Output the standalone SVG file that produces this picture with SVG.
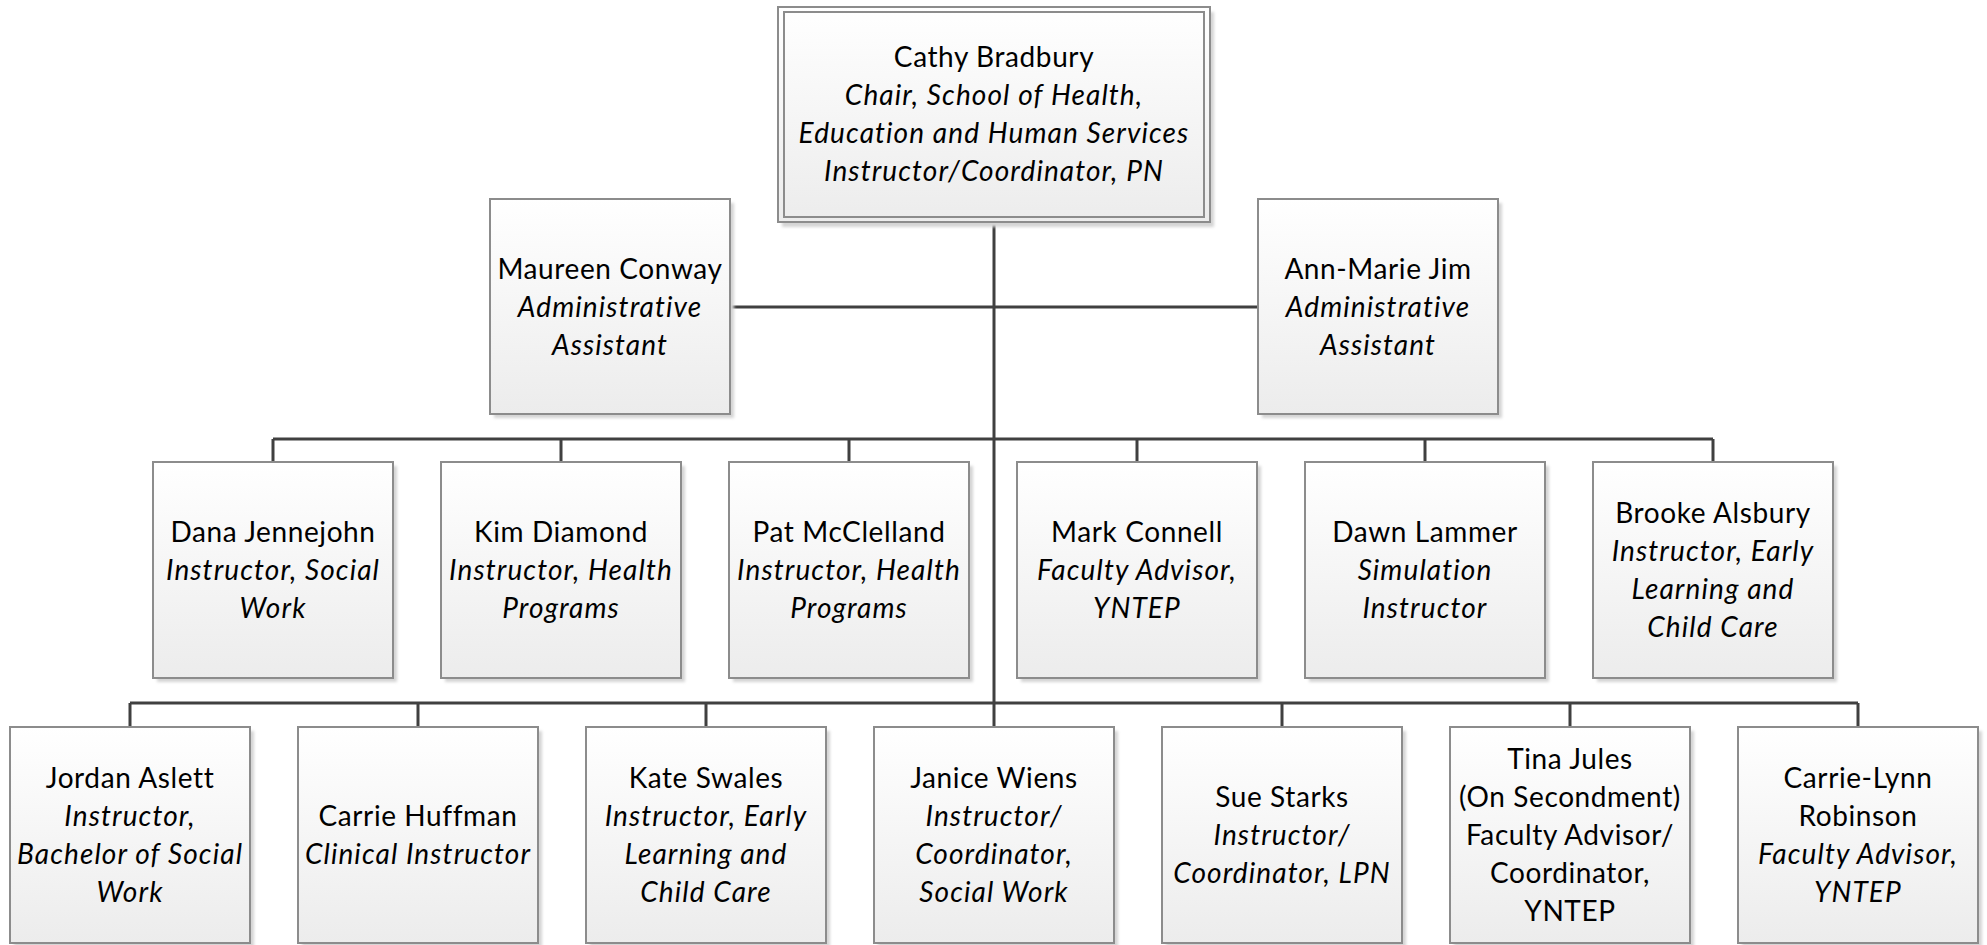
<svg xmlns="http://www.w3.org/2000/svg" width="1987" height="945" viewBox="0 0 1987 945">
<defs>
<linearGradient id="fill" x1="0" y1="0" x2="0" y2="1">
<stop offset="0" stop-color="#ffffff"/>
<stop offset="1" stop-color="#ececec"/>
</linearGradient>
<filter id="sh" x="-10%" y="-10%" width="130%" height="130%">
<feGaussianBlur stdDeviation="1.5"/>
</filter>
</defs>
<style>
.box{fill:url(#fill);stroke:#8c8c8c;stroke-width:2}
.shadow{fill:#d4d4d4;filter:url(#sh)}
.conn{fill:none;stroke:#404040;stroke-width:3}
text{font-family:Lato,"Open Sans","Liberation Sans",sans-serif;font-size:28px;letter-spacing:0.6px;fill:#000;text-anchor:middle}
.i{font-style:italic;letter-spacing:1.1px}
</style>
<rect width="1987" height="945" fill="#ffffff"/>
<g id="connectors">
<path class="conn" d="M994 222 V727"/>
<path class="conn" d="M730 307 H1258"/>
<path class="conn" d="M273 439 H1713 M273 439 V462 M561 439 V462 M849 439 V462 M1137 439 V462 M1425 439 V462 M1713 439 V462"/>
<path class="conn" d="M130 703 H1858 M130 703 V727 M418 703 V727 M706 703 V727 M1282 703 V727 M1570 703 V727 M1858 703 V727"/>
</g>
<g id="n-bradbury">
<rect class="shadow" x="782" y="12" width="432" height="215"/>
<rect class="box" x="778" y="7" width="432" height="215"/>
<rect x="784" y="12" width="420" height="205" fill="none" stroke="#8c8c8c" stroke-width="2"/>
<text x="994" y="67">Cathy Bradbury</text>
<text class="i" x="994" y="105">Chair, School of Health,</text>
<text class="i" x="994" y="143">Education and Human Services</text>
<text class="i" x="994" y="181">Instructor/Coordinator, PN</text>
</g>
<g id="n-conway">
<rect class="shadow" x="494" y="203" width="240" height="215"/>
<rect class="box" x="490" y="199" width="240" height="215"/>
<text x="610" y="279">Maureen Conway</text>
<text class="i" x="610" y="317">Administrative</text>
<text class="i" x="610" y="355">Assistant</text>
</g>
<g id="n-jim">
<rect class="shadow" x="1262" y="203" width="240" height="215"/>
<rect class="box" x="1258" y="199" width="240" height="215"/>
<text x="1378" y="279">Ann-Marie Jim</text>
<text class="i" x="1378" y="317">Administrative</text>
<text class="i" x="1378" y="355">Assistant</text>
</g>
<g id="n-jennejohn">
<rect class="shadow" x="157" y="466" width="240" height="216"/>
<rect class="box" x="153" y="462" width="240" height="216"/>
<text x="273" y="542">Dana Jennejohn</text>
<text class="i" x="273" y="580">Instructor, Social</text>
<text class="i" x="273" y="618">Work</text>
</g>
<g id="n-diamond">
<rect class="shadow" x="445" y="466" width="240" height="216"/>
<rect class="box" x="441" y="462" width="240" height="216"/>
<text x="561" y="542">Kim Diamond</text>
<text class="i" x="561" y="580">Instructor, Health</text>
<text class="i" x="561" y="618">Programs</text>
</g>
<g id="n-mcclelland">
<rect class="shadow" x="733" y="466" width="240" height="216"/>
<rect class="box" x="729" y="462" width="240" height="216"/>
<text x="849" y="542">Pat McClelland</text>
<text class="i" x="849" y="580">Instructor, Health</text>
<text class="i" x="849" y="618">Programs</text>
</g>
<g id="n-connell">
<rect class="shadow" x="1021" y="466" width="240" height="216"/>
<rect class="box" x="1017" y="462" width="240" height="216"/>
<text x="1137" y="542">Mark Connell</text>
<text class="i" x="1137" y="580">Faculty Advisor,</text>
<text class="i" x="1137" y="618">YNTEP</text>
</g>
<g id="n-lammer">
<rect class="shadow" x="1309" y="466" width="240" height="216"/>
<rect class="box" x="1305" y="462" width="240" height="216"/>
<text x="1425" y="542">Dawn Lammer</text>
<text class="i" x="1425" y="580">Simulation</text>
<text class="i" x="1425" y="618">Instructor</text>
</g>
<g id="n-alsbury">
<rect class="shadow" x="1597" y="466" width="240" height="216"/>
<rect class="box" x="1593" y="462" width="240" height="216"/>
<text x="1713" y="523">Brooke Alsbury</text>
<text class="i" x="1713" y="561">Instructor, Early</text>
<text class="i" x="1713" y="599">Learning and</text>
<text class="i" x="1713" y="637">Child Care</text>
</g>
<g id="n-aslett">
<rect class="shadow" x="14" y="731" width="240" height="216"/>
<rect class="box" x="10" y="727" width="240" height="216"/>
<text x="130" y="788">Jordan Aslett</text>
<text class="i" x="130" y="826">Instructor,</text>
<text class="i" x="130" y="864">Bachelor of Social</text>
<text class="i" x="130" y="902">Work</text>
</g>
<g id="n-huffman">
<rect class="shadow" x="302" y="731" width="240" height="216"/>
<rect class="box" x="298" y="727" width="240" height="216"/>
<text x="418" y="826">Carrie Huffman</text>
<text class="i" x="418" y="864">Clinical Instructor</text>
</g>
<g id="n-swales">
<rect class="shadow" x="590" y="731" width="240" height="216"/>
<rect class="box" x="586" y="727" width="240" height="216"/>
<text x="706" y="788">Kate Swales</text>
<text class="i" x="706" y="826">Instructor, Early</text>
<text class="i" x="706" y="864">Learning and</text>
<text class="i" x="706" y="902">Child Care</text>
</g>
<g id="n-wiens">
<rect class="shadow" x="878" y="731" width="240" height="216"/>
<rect class="box" x="874" y="727" width="240" height="216"/>
<text x="994" y="788">Janice Wiens</text>
<text class="i" x="994" y="826">Instructor/</text>
<text class="i" x="994" y="864">Coordinator,</text>
<text class="i" x="994" y="902">Social Work</text>
</g>
<g id="n-starks">
<rect class="shadow" x="1166" y="731" width="240" height="216"/>
<rect class="box" x="1162" y="727" width="240" height="216"/>
<text x="1282" y="807">Sue Starks</text>
<text class="i" x="1282" y="845">Instructor/</text>
<text class="i" x="1282" y="883">Coordinator, LPN</text>
</g>
<g id="n-jules">
<rect class="shadow" x="1454" y="731" width="240" height="216"/>
<rect class="box" x="1450" y="727" width="240" height="216"/>
<text x="1570" y="769">Tina Jules</text>
<text x="1570" y="807">(On Secondment)</text>
<text x="1570" y="845">Faculty Advisor/</text>
<text x="1570" y="883">Coordinator,</text>
<text x="1570" y="921">YNTEP</text>
</g>
<g id="n-robinson">
<rect class="shadow" x="1742" y="731" width="240" height="216"/>
<rect class="box" x="1738" y="727" width="240" height="216"/>
<text x="1858" y="788">Carrie-Lynn</text>
<text x="1858" y="826">Robinson</text>
<text class="i" x="1858" y="864">Faculty Advisor,</text>
<text class="i" x="1858" y="902">YNTEP</text>
</g>
</svg>
